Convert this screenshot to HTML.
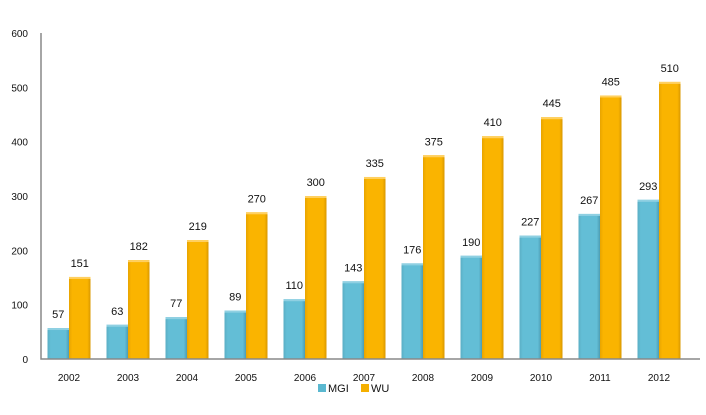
<!DOCTYPE html>
<html><head><meta charset="utf-8"><style>
body{margin:0;background:#fff;width:706px;height:410px;overflow:hidden}
text{font-family:"Liberation Sans",sans-serif;fill:#111}
</style></head><body>
<svg id="c" width="706" height="410">
<defs>
<linearGradient id="gm" x1="0" x2="1"><stop offset="0" stop-color="#5aaec4"/><stop offset="0.15" stop-color="#63bed6"/><stop offset="0.85" stop-color="#63bed6"/><stop offset="1" stop-color="#4d9cb2"/></linearGradient>
<linearGradient id="gw" x1="0" x2="1"><stop offset="0" stop-color="#e8a400"/><stop offset="0.15" stop-color="#fab400"/><stop offset="0.85" stop-color="#fab400"/><stop offset="1" stop-color="#d99800"/></linearGradient>
</defs>
<g id="plot"></g>
</svg>
<script>
const categories=["2002","2003","2004","2005","2006","2007","2008","2009","2010","2011","2012"];
const mgi=[57,63,77,89,110,143,176,190,227,267,293];
const wu=[151,182,219,270,300,335,375,410,445,485,510];
const yTicks=[0,100,200,300,400,500,600];
const NS="http://www.w3.org/2000/svg";
const g=document.getElementById('plot');
const x0=39.5,x1=688.5,y0=359,y1=33,yMax=600;
const step=(x1-x0)/categories.length;
const y=v=>y0-(v/yMax)*(y0-y1);
const xc=i=>x0+step*(i+0.5);
function el(t,a){const e=document.createElementNS(NS,t);for(const k in a)e.setAttribute(k,a[k]);g.appendChild(e);return e;}
yTicks.forEach(v=>{const t=el('text',{x:28,y:y(v)+4,'text-anchor':'end','font-size':10});t.textContent=v;

});
const bw=21.5;
categories.forEach((c,i)=>{
 const cx=xc(i);
 [[mgi[i],cx-bw,'url(#gm)','#8fd0e2','mgi'],[wu[i],cx,'url(#gw)','#ffd060','wu']].forEach(([v,bx,f,top,s])=>{
  const r=el('rect',{x:bx,y:y(v),width:bw,height:y0-y(v),fill:f});
  
  
  el('rect',{x:bx,y:y(v),width:bw,height:2,fill:top});
  const t=el('text',{x:bx+bw/2,y:y(v)-10,'text-anchor':'middle','font-size':11});t.textContent=v;
  
  
 });
 const t=el('text',{x:cx,y:381,'text-anchor':'middle','font-size':10});t.textContent=c;
 
 
});
const ax=el('path',{d:`M41,${y1}V${y0}H700`,stroke:'#888',fill:'none','stroke-width':1.5});


[[318,'#5ab8d0','MGI'],[361,'#f5b000','WU']].forEach(([lx,col,lab])=>{
 const r=el('rect',{x:lx,y:384,width:8,height:8,fill:col});
 
 
 const t=el('text',{x:lx+10,y:392,'font-size':11});t.textContent=lab;
 
 
});
</script>
</body></html>
